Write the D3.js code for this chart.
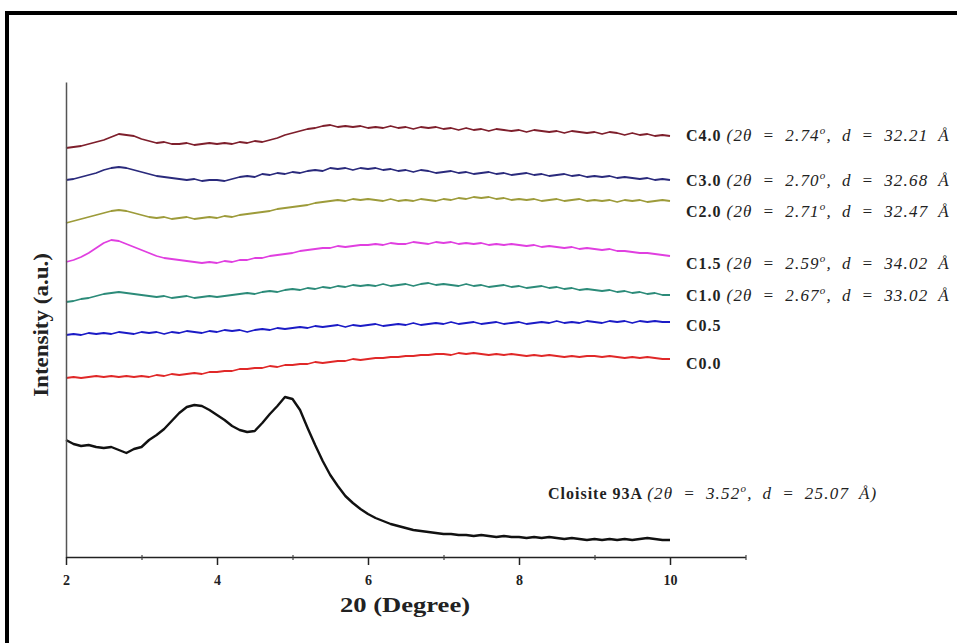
<!DOCTYPE html>
<html>
<head>
<meta charset="utf-8">
<script src="https://cdn.jsdelivr.net/npm/d3@7/dist/d3.min.js"></script>
<style>
body { margin: 0; background: #fff; }
svg { display: block; font-family: "Liberation Serif", "Times New Roman", serif; }
</style>
</head>
<body>
<svg id="chart" width="957" height="643"></svg>
<script>
// 2-theta sampling (degrees)
var angles = [2.0,2.1,2.2,2.3,2.4,2.5,2.6,2.7,2.8,2.9, 3.0,3.1,3.2,3.3,3.4,3.5,3.6,3.7,3.8,3.9,
	4.0,4.1,4.2,4.3,4.4,4.5,4.6,4.7,4.8,4.9, 5.0,5.1,5.2,5.3,5.4,5.5,5.6,5.7,5.8,5.9,
	6.0,6.1,6.2,6.3,6.4,6.5,6.6,6.7,6.8,6.9, 7.0,7.1,7.2,7.3,7.4,7.5,7.6,7.7,7.8,7.9,
	8.0,8.1,8.2,8.3,8.4,8.5,8.6,8.7,8.8,8.9, 9.0,9.1,9.2,9.3,9.4,9.5,9.6,9.7,9.8,9.9, 10.0];

// stacked intensities (a.u., offset)
var c40 = [409,410,411,413,415,417,420,423,422,421, 418,416,414,415,413,413,414,412,413,414,
	413,414,413,415,414,416,415,417,419,422, 424,426,428,429,431,432,430,431,430,431,
	429,430,429,431,429,430,428,430,429,430, 428,429,427,429,427,428,426,428,427,426,
	427,425,427,426,425,426,424,426,425,424, 425,423,425,424,422,424,422,423,421,422, 421];
var c30 = [377,378,380,382,384,387,389,390,389,387, 385,383,381,380,379,378,377,378,376,377,
	377,376,378,380,381,380,383,382,384,383, 385,384,386,387,386,389,388,389,387,389,
	388,389,387,388,386,387,385,387,386,384, 385,386,384,385,383,384,385,383,384,382,
	383,384,382,383,381,382,383,381,382,380, 381,380,381,379,380,379,378,379,377,378, 377];
var c20 = [334,336,338,340,342,344,346,347,346,344, 342,340,339,340,338,339,340,338,339,340,
	339,341,340,342,343,344,345,346,348,349, 350,351,352,354,355,356,357,356,358,357,
	358,357,356,358,356,357,356,358,357,356, 358,357,359,358,360,359,360,358,359,357,
	358,357,358,356,357,358,356,357,358,356, 357,356,357,355,357,356,357,355,356,357, 356];
var c15 = [295,297,300,304,309,314,317,316,313,310, 307,304,301,299,298,297,296,295,294,295,
	294,296,295,297,297,299,299,301,302,303, 304,306,307,308,309,309,311,310,311,312,
	312,313,312,314,313,313,315,314,313,315, 314,315,313,314,313,314,312,313,312,313,
	312,311,312,310,311,310,309,310,308,309, 308,307,308,306,306,305,304,304,303,302, 301];
var c10 = [255,256,258,259,261,263,264,265,264,263, 262,261,260,261,259,260,261,259,260,261,
	260,261,262,263,264,263,265,266,265,267, 268,267,269,268,270,269,271,270,272,271,
	272,271,273,271,272,273,271,273,274,272, 273,272,271,273,271,272,270,271,272,270,
	271,269,270,271,269,270,268,269,267,268, 267,266,267,265,266,264,265,263,264,262, 262];
var c05 = [222,223,222,224,223,224,223,225,224,223, 225,224,225,223,225,224,226,225,224,226,
	225,227,226,227,225,227,228,227,229,228, 229,230,229,231,230,231,232,230,232,231,
	232,233,231,232,233,232,234,232,233,234, 233,235,233,234,235,233,234,235,233,234,
	235,233,234,235,234,236,234,235,234,236, 235,234,236,235,236,234,236,235,236,235, 235];
var c00 = [179,180,179,180,181,180,181,180,181,180, 181,180,182,181,183,182,183,184,183,185,
	185,186,186,188,188,189,189,191,190,192, 192,193,193,195,194,195,196,196,198,197,
	198,199,199,200,200,201,201,202,202,203, 203,202,204,203,204,203,202,203,202,203,
	202,201,202,201,202,201,200,201,200,201, 201,200,201,200,199,200,199,200,199,198, 198];
var cloisite = [117,113,111,112,110,109,110,107,104,108, 110,117,122,128,136,144,150,152,151,147,
	142,137,131,127,125,126,134,143,151,160, 158,147,129,112,96,82,71,61,54,48,
	43,39,36,33,31,29,27,26,25,24, 23,23,22,22,21,22,21,20,21,20,
	20,19,20,19,20,19,18,19,18,17, 18,17,18,17,18,17,18,19,18,17, 17];

var names = ['C4.0', 'C3.0', 'C2.0', 'C1.5', 'C1.0', 'C0.5', 'C0.0', 'Cloisite 93A'];
var peakAngle = ['2.74', '2.70', '2.71', '2.59', '2.67', null, null, '3.52'];
var dSpacing = ['32.21', '32.68', '32.47', '34.02', '33.02', null, null, '25.07'];
var colors = ['#7e1f2c', '#2a2a7c', '#9d9b3a', '#e03fe0', '#2c8b79', '#1b1bc6', '#e02828', '#111111'];
var xTicks = [2, 4, 6, 8, 10];
var xMinorTicks = [3, 5, 7, 9, 11];

var series = [c40, c30, c20, c15, c10, c05, c00, cloisite];

// label layout (pixels); the C labels run into the right edge in the original
var labelX = [686, 686, 686, 686, 686, 686, 686, 548];
var labelY = [136, 181, 212, 264, 296, 326, 364, 494];

var svg = d3.select('#chart');

svg.append('rect').attr('width', 957).attr('height', 643).attr('fill', '#fff');

// frame (cut off on right and bottom)
svg.append('path')
	.attr('d', 'M7,643 L7,13 L957,13')
	.attr('fill', 'none')
	.attr('stroke', '#000')
	.attr('stroke-width', 4);

var x = d3.scaleLinear().domain([2, 11]).range([66, 745.5]);
var y = d3.scaleLinear().domain([0, 475]).range([557, 82]);

var line = d3.line()
	.x(function(d) { return x(d[0]); })
	.y(function(d) { return y(d[1]); });

var g = svg.append('g');

series.forEach(function(s, i) {
	var pts = angles.map(function(a, j) { return [a, s[j]]; });
	g.append('path')
		.datum(pts)
		.attr('d', line)
		.attr('fill', 'none')
		.attr('stroke', colors[i])
		.attr('stroke-width', i == 7 ? 2.4 : 1.8)
		.attr('stroke-linejoin', 'round');
});

// y axis (no ticks)
var yAxis = svg.append('g')
	.attr('transform', 'translate(66,0)')
	.call(d3.axisLeft(y).tickValues([]).tickSizeOuter(0));
yAxis.select('.domain').attr('stroke', '#555').attr('stroke-width', 1.5);

// x axis
var xAxis = svg.append('g')
	.attr('transform', 'translate(0,557)')
	.call(d3.axisBottom(x).tickValues(xTicks).tickSize(8).tickSizeOuter(0).tickPadding(10));
xAxis.select('.domain').attr('stroke', '#222').attr('stroke-width', 1.5);
xAxis.selectAll('.tick line').attr('stroke', '#222').attr('stroke-width', 1.5);
xAxis.selectAll('.tick text')
	.attr('fill', '#222')
	.style('font-family', '"Liberation Serif", serif')
	.style('font-size', '14px')
	.style('font-weight', 'bold');

var xMinor = svg.append('g')
	.attr('transform', 'translate(0,557)')
	.call(d3.axisBottom(x).tickValues(xMinorTicks).tickSize(3).tickSizeOuter(0).tickFormat(''));
xMinor.select('.domain').remove();
xMinor.selectAll('.tick line').attr('y1', -2).attr('stroke', '#444').attr('stroke-width', 1.2);

// axis titles (the original figure is stretched sideways)
svg.append('text')
	.attr('transform', 'translate(405,612) scale(1.33,1)')
	.attr('text-anchor', 'middle')
	.style('font-size', '20px').style('font-weight', 'bold')
	.attr('fill', '#222')
	.text('20 (Degree)');

svg.append('text')
	.attr('transform', 'translate(48,325) rotate(-90) scale(1.15,1.1)')
	.attr('text-anchor', 'middle')
	.style('font-size', '20px').style('font-weight', 'bold')
	.attr('fill', '#222')
	.text('Intensity (a.u.)');

// curve labels
names.forEach(function(n, i) {
	var t = svg.append('text')
		.attr('x', labelX[i]).attr('y', labelY[i] + 5)
		.style('font-size', '16px')
		.attr('fill', '#222');
	t.append('tspan').style('font-weight', 'bold').style('letter-spacing', '1px').text(n + ' ');
	if (peakAngle[i]) {
		var close = i == 7 ? ')' : '';
		var it = t.append('tspan').style('font-style', 'italic').style('font-size', '17px')
			.style('letter-spacing', '1.2px').style('word-spacing', '4.5px');
		it.append('tspan').text('(2\u03b8 = ' + peakAngle[i]);
		it.append('tspan').attr('dy', -7).style('font-size', '11px').text('o');
		it.append('tspan').attr('dy', 7).text(', d = ' + dSpacing[i] + ' \u00c5' + close);
	}
});
</script>
</body>
</html>
